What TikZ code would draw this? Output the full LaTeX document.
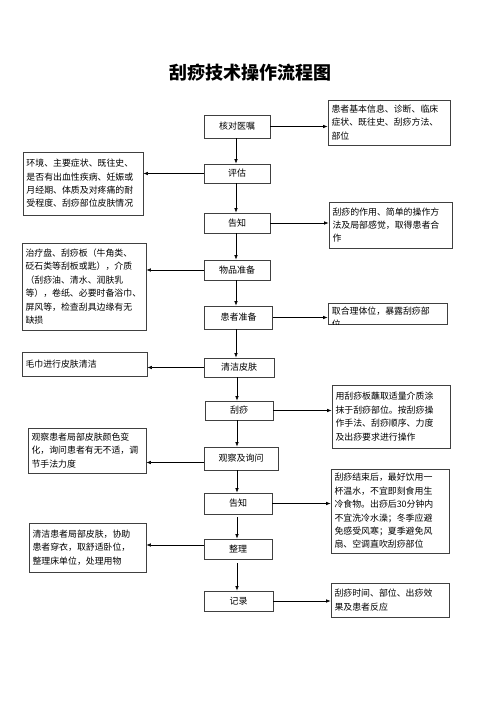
\documentclass[tikz,border=0pt]{standalone}
\usepackage{fontspec}
\setmainfont{Noto Sans CJK SC}
\usetikzlibrary{arrows.meta}
\tikzset{
  mbox/.style={draw=black!75, line width=0.7pt, minimum width=66pt, minimum height=21pt, inner sep=0pt, font=\fontsize{9}{11}\selectfont},
  sbox/.style={draw=black!75, line width=0.7pt, inner xsep=3.5pt, inner ysep=0pt, align=left, font=\fontsize{8.9}{13.4}\selectfont},
  arr/.style={line width=0.6pt, -{Latex[length=4.5pt,width=3.5pt]}},
}
\begin{document}
\begin{tikzpicture}[x=1pt,y=-1pt]
\useasboundingbox (0,0) rectangle (500,707);
\node[font=\fontsize{18}{20}\selectfont\bfseries] (title) at (250,73) {刮痧技术操作流程图};
% central column
\node[mbox, minimum height=23pt] (n1) at (237,126.5) {核对医嘱};
\node[mbox, minimum height=19pt] (n2) at (237,173.5) {评估};
\node[mbox, minimum height=20pt] (n3) at (237,223) {告知};
\node[mbox, minimum height=20pt] (n4) at (237,270) {物品准备};
\node[mbox, minimum width=68pt, minimum height=23pt] (n5) at (238.5,317.5) {患者准备};
\node[mbox, minimum width=70pt, minimum height=19pt] (n6) at (239,367.5) {清洁皮肤};
\node[mbox, minimum width=68pt, minimum height=19pt] (n7) at (239,410.5) {刮痧};
\node[mbox, minimum width=74pt, minimum height=23pt] (n8) at (241,458.5) {观察及询问};
\node[mbox, minimum width=68pt, minimum height=21pt] (n9) at (238,503.5) {告知};
\node[mbox, minimum width=68pt, minimum height=20pt] (n10) at (238,549) {整理};
\node[mbox, minimum width=69pt, minimum height=20pt] (n11) at (238.5,601) {记录};
% right boxes
\node[sbox, text width=115pt, minimum height=45pt] (r1) at (389,122.5) {患者基本信息、诊断、临床\\症状、既往史、刮痧方法、\\部位};
\node[sbox, text width=116pt, minimum height=46pt] (r2) at (390.5,225) {刮痧的作用、简单的操作方\\法及局部感觉，取得患者合\\作};
\node[draw=black!75, line width=0.7pt, minimum width=119pt, minimum height=21pt, inner sep=0pt] (r3) at (387.5,313.5) {};
\begin{scope}
\clip (r3.north west) rectangle (r3.south east);
\node[anchor=north west, align=left, inner sep=0pt, font=\fontsize{8.9}{13.4}\selectfont] (r3t) at ([xshift=4pt,yshift=-4pt]r3.north west) {取合理体位，暴露刮痧部\\位};
\end{scope}
\node[sbox, text width=111pt, minimum height=63pt] (r4) at (391,416.5) {用刮痧板蘸取适量介质涂\\抹于刮痧部位。按刮痧操\\作手法、刮痧顺序、力度\\及出痧要求进行操作};
\node[sbox, text width=111pt, minimum height=84pt] (r5) at (390,511) {刮痧结束后，最好饮用一\\杯温水，不宜即刻食用生\\冷食物。出痧后30分钟内\\不宜洗冷水澡；冬季应避\\免感受风寒；夏季避免风\\扇、空调直吹刮痧部位};
\node[sbox, text width=111pt, minimum height=34pt] (r6) at (390,600) {刮痧时间、部位、出痧效\\果及患者反应};
% left boxes
\node[sbox, text width=113pt, minimum height=63pt] (l1) at (83,183.5) {环境、主要症状、既往史、\\是否有出血性疾病、妊娠或\\月经期、体质及对疼痛的耐\\受程度、刮痧部位皮肤情况};
\node[sbox, text width=117pt, minimum height=87pt] (l2) at (84,286.5) {治疗盘、刮痧板（牛角类、\\砭石类等刮板或匙），介质\\（刮痧油、清水、润肤乳\\等），卷纸、必要时备浴巾、\\屏风等，检查刮具边缘有无\\缺损};
\node[sbox, text width=118pt, minimum height=24pt] (l3) at (84.5,364) {毛巾进行皮肤清洁};
\node[sbox, text width=111pt, minimum height=45pt] (l4) at (87,450.5) {观察患者局部皮肤颜色变\\化，询问患者有无不适，调\\节手法力度};
\node[sbox, text width=110pt, minimum height=49pt] (l5) at (87.5,547.5) {清洁患者局部皮肤，协助\\患者穿衣，取舒适卧位，\\整理床单位，处理用物};
% vertical arrows
\draw[arr] (n1.south -| 236,0) -- (n2.north -| 236,0);
\draw[arr] (n2.south -| 236,0) -- (n3.north -| 236,0);
\draw[arr] (n3.south -| 236,0) -- (n4.north -| 236,0);
\draw[arr] (n4.south -| 236,0) -- (n5.north -| 236,0);
\draw[arr] (n5.south -| 236,0) -- (n6.north -| 236,0);
\draw[arr] (n6.south -| 237,0) -- (n7.north -| 237,0);
\draw[arr] (n7.south -| 237,0) -- (n8.north -| 237,0);
\draw[arr] (n8.south -| 237,0) -- (n9.north -| 237,0);
\draw[arr] ([yshift=-3pt]n9.south -| 237,0) -- (n10.north -| 237,0);
\draw[arr] ([yshift=-4pt]n10.south -| 237,0) -- (n11.north -| 237,0);
% right arrows
\draw[arr] (n1.east) -- (n1.east -| r1.west);
\draw[arr] (n3.east) -- (n3.east -| r2.west);
\draw[arr] (n5.east) -- (n5.east -| r3.west);
\draw[arr] (n7.east) -- (n7.east -| r4.west);
\draw[arr] (n9.east) -- (n9.east -| r5.west);
\draw[arr] (n11.east) -- (n11.east -| r6.west);
% left arrows
\draw[arr] (n2.west) -- (n2.west -| l1.east);
\draw[arr] (n4.west) -- (n4.west -| l2.east);
\draw[arr] (n6.west) -- (n6.west -| l3.east);
\draw[arr] ([yshift=-4pt]n8.west) -- ([yshift=-4pt]n8.west -| l4.east);
\draw[arr] ([yshift=4pt]n10.west) -- ([yshift=4pt]n10.west -| l5.east);
\end{tikzpicture}
\end{document}
